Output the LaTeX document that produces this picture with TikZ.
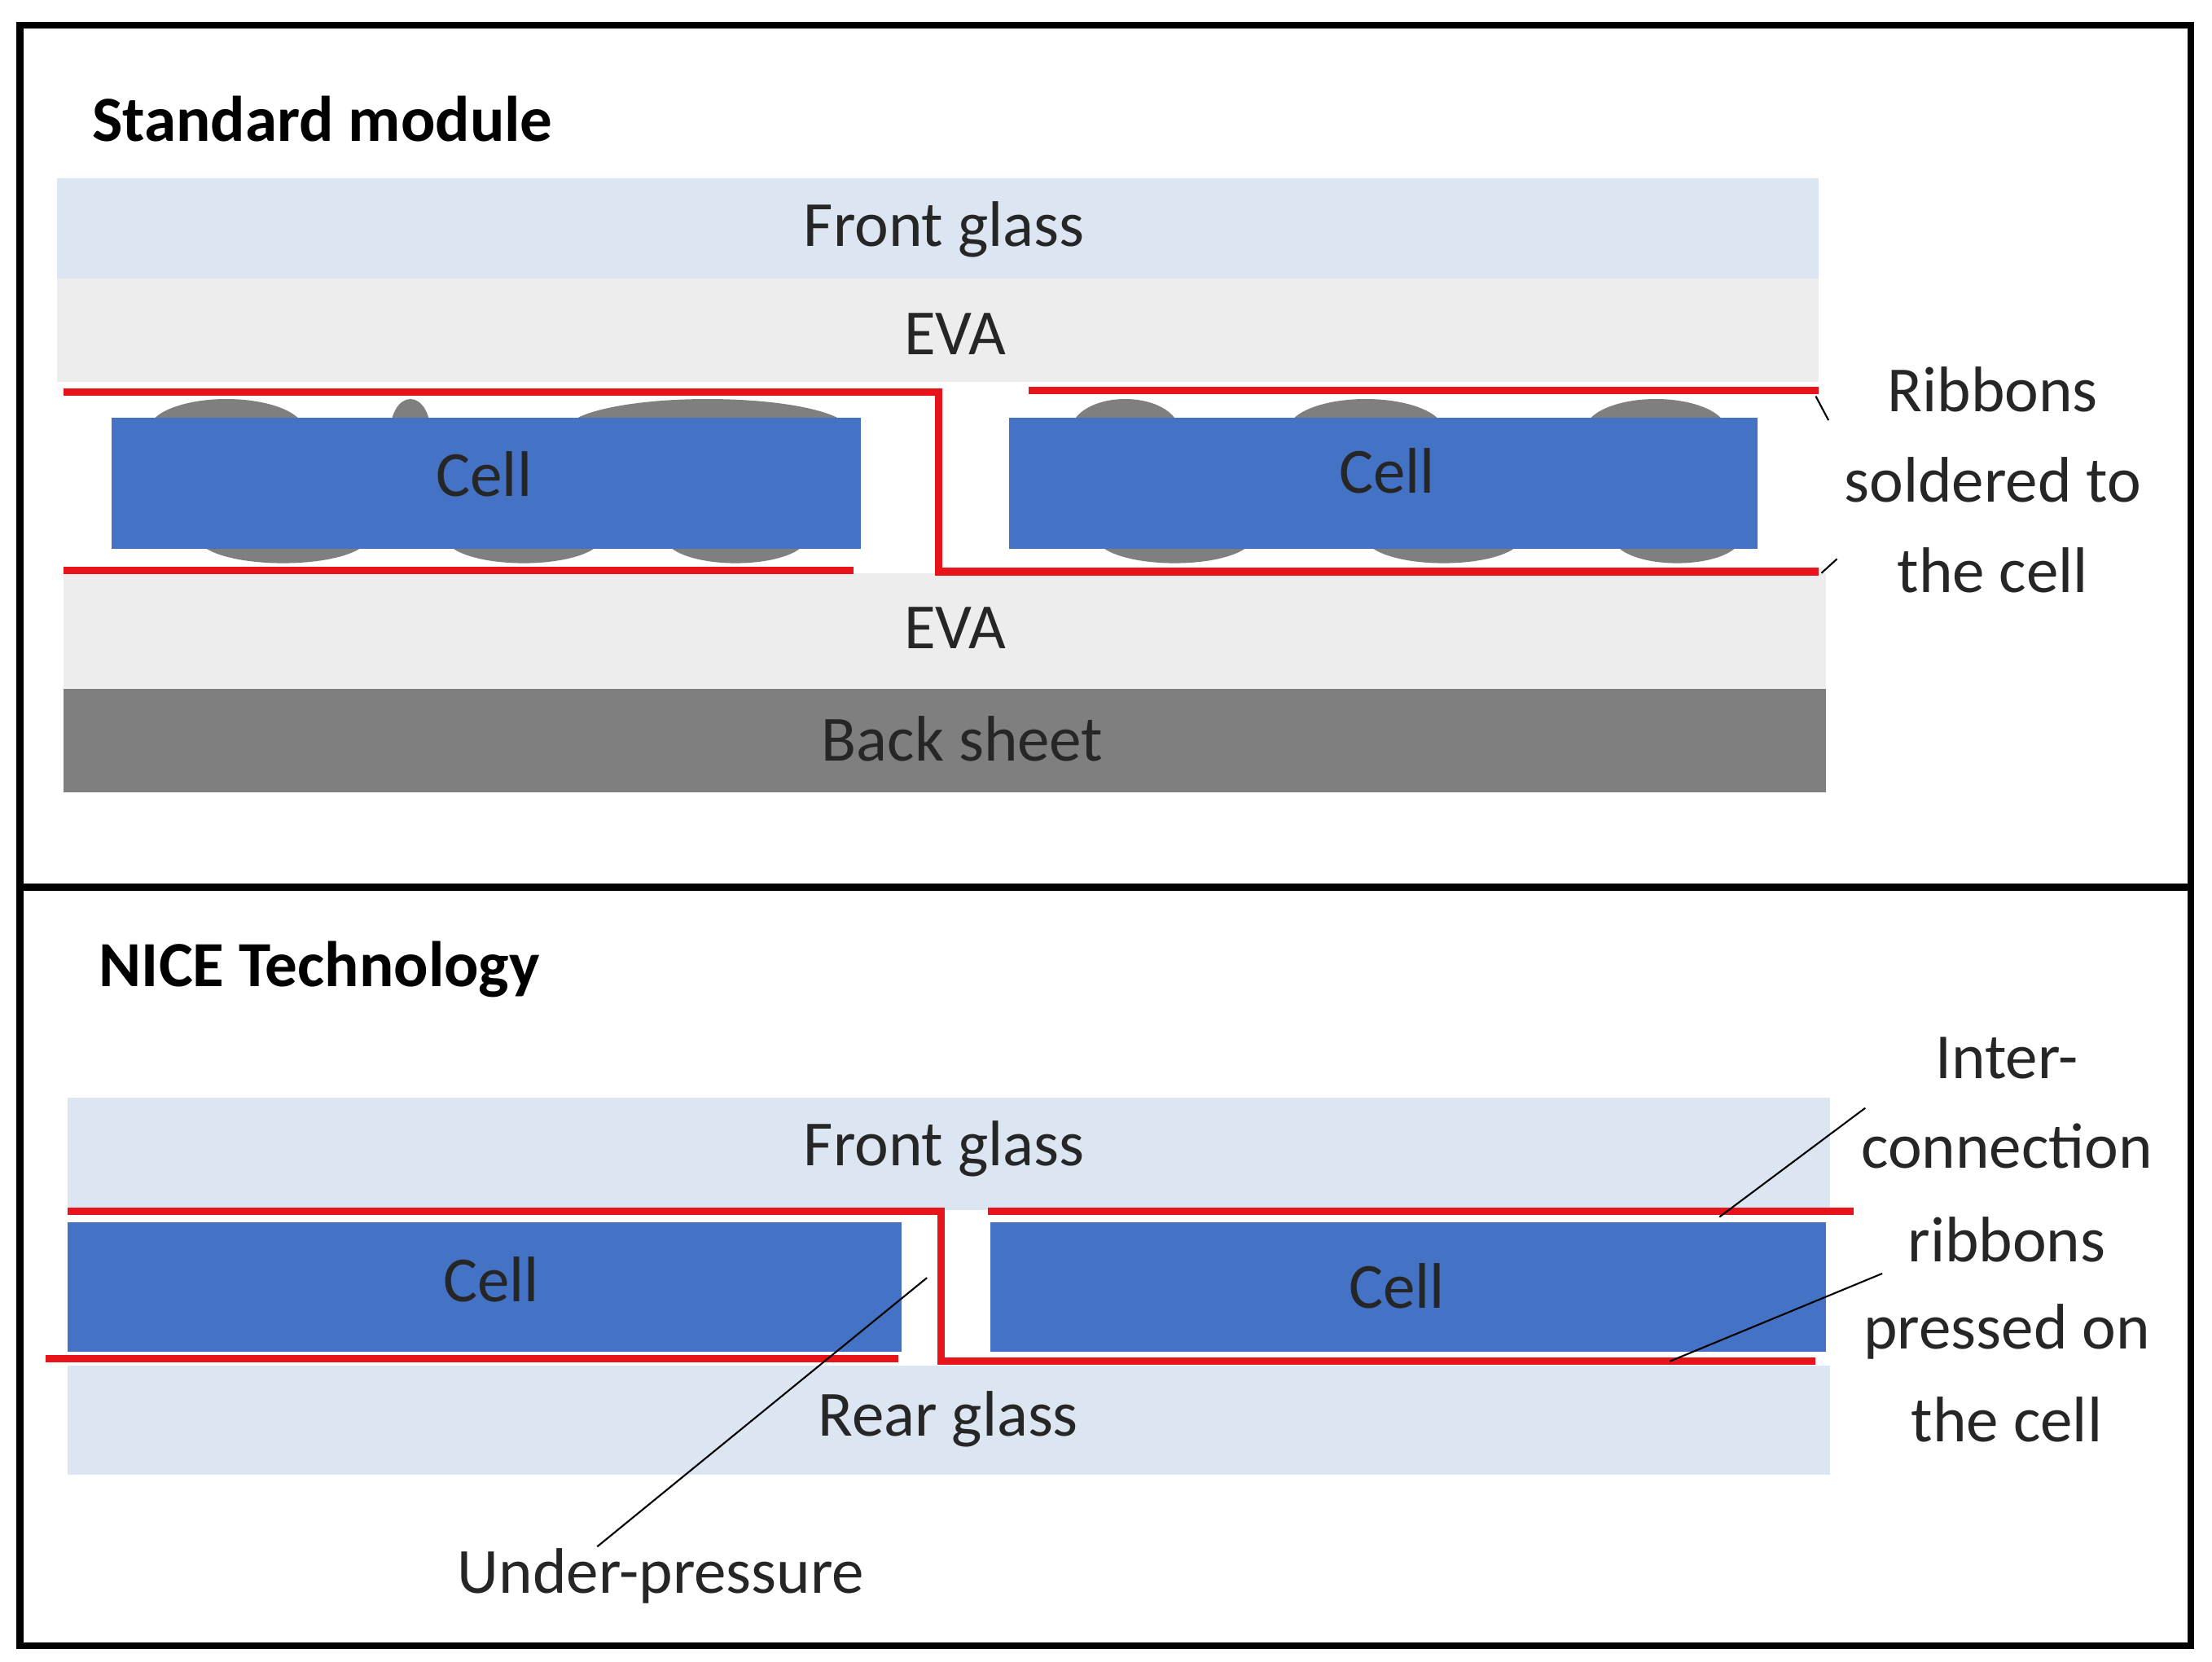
\documentclass[tikz,border=0pt]{standalone}
\usepackage{fontspec}
\setmainfont{Carlito}
\begin{document}
\begin{tikzpicture}[x=0.017377cm,y=-0.017377cm,
  frame/.style={draw=black,line width=2.4pt},
  glass/.style={fill=glassc},
  eva/.style={fill=evac},
  cell/.style={fill=cellc},
  bump/.style={fill=bumpc},
  rib/.style={draw=ribc,line width=2.6pt},
  lbl/.style={font=\fontsize{22.5}{27}\selectfont,text=black!85},
  ttl/.style={font=\fontsize{22.5}{27}\selectfont\bfseries,anchor=west},
  lead/.style={draw=black,line width=0.6pt}]
\definecolor{glassc}{HTML}{DCE6F2}
\definecolor{evac}{HTML}{EDEDED}
\definecolor{cellc}{HTML}{4472C4}
\definecolor{bumpc}{HTML}{7F7F7F}
\definecolor{ribc}{HTML}{E8141B}
\useasboundingbox[fill=white] (0,0) rectangle (1563,1174);
% ---------- top panel
\draw[frame] (14,18) rectangle (1548,627);
\node[ttl] (t1) at (58,84) {Standard module};
\fill[glass] (40,126) rectangle (1285,197);
\node[lbl] (fg1) at (667,162) {Front glass};
\fill[eva] (40,197) rectangle (1285,270);
\node[lbl] (eva1) at (675,236) {EVA};
\fill[eva] (45,405) rectangle (1290,487);
\node[lbl] (eva2) at (675,444) {EVA};
\fill[bumpc] (45,487) rectangle (1290,560);
\node[lbl] (bs) at (680,522) {Back sheet};
% bumps
\foreach \x/\w in {160/55,290/14,500/100} \fill[bump] (\x,304) ellipse ({\w} and 22);
\foreach \x/\w in {200/60,370/55,520/50} \fill[bump] (\x,380) ellipse ({\w} and 18);
\foreach \x/\w in {795/38,965/55,1170/50} \fill[bump] (\x,304) ellipse ({\w} and 22);
\foreach \x/\w in {830/55,1020/55,1185/45} \fill[bump] (\x,380) ellipse ({\w} and 18);
\fill[cell] (79,295) rectangle (608,388);
\fill[cell] (713,295) rectangle (1242,388);
\node[lbl] (c1) at (342,335) {Cell};
\node[lbl] (c2) at (980,333) {Cell};
\draw[rib] (45,277) -- (663,277) -- (663,404) -- (1285,404);
\draw[rib] (45,403) -- (603,403);
\draw[rib] (727,276) -- (1285,276);
\node[lbl] (r1) at (1408,275) {Ribbons};
\node[lbl] (r2) at (1408,339) {soldered to};
\node[lbl] (r3) at (1408,403) {the cell};
\coordinate (a1) at (1283,280); \coordinate (a2) at (1292,297);
\coordinate (b1) at (1287,405); \coordinate (b2) at (1298,395);
\draw[lead] (a1) -- (a2); \draw[lead] (b1) -- (b2);
% ---------- bottom panel
\draw[frame] (14,627) rectangle (1548,1163);
\node[ttl] (t2) at (63,685) {NICE Technology};
\fill[glass] (48,776) rectangle (1293,855);
\node[lbl] (fg2) at (667,812) {Front glass};
\fill[glass] (48,965) rectangle (1293,1042);
\node[lbl] (rg) at (670,1003) {Rear glass};
\fill[cell] (48,864) rectangle (637,955);
\fill[cell] (700,864) rectangle (1290,955);
\node[lbl] (c3) at (347,904) {Cell};
\node[lbl] (c4) at (987,909) {Cell};
\draw[rib] (48,856) -- (665,856) -- (665,962) -- (1283,962);
\draw[rib] (698,856) -- (1310,856);
\draw[rib] (32,960) -- (635,960);
\node[lbl] (i1) at (1418,748) {Inter-};
\node[lbl] (i2) at (1418,810) {connection};
\node[lbl] (i3) at (1418,876) {ribbons};
\node[lbl] (i4) at (1418,941) {pressed on};
\node[lbl] (i5) at (1418,1003) {the cell};
\node[lbl] (up) at (467,1114) {Under-pressure};
\coordinate (l1a) at (1318,783); \coordinate (l1b) at (1215,860);
\coordinate (l2a) at (1330,900); \coordinate (l2b) at (1180,962);
\coordinate (l3a) at (422,1093); \coordinate (l3b) at (655,903);
\draw[lead] (l1a) -- (l1b); \draw[lead] (l2a) -- (l2b); \draw[lead] (l3a) -- (l3b);
\end{tikzpicture}
\end{document}
